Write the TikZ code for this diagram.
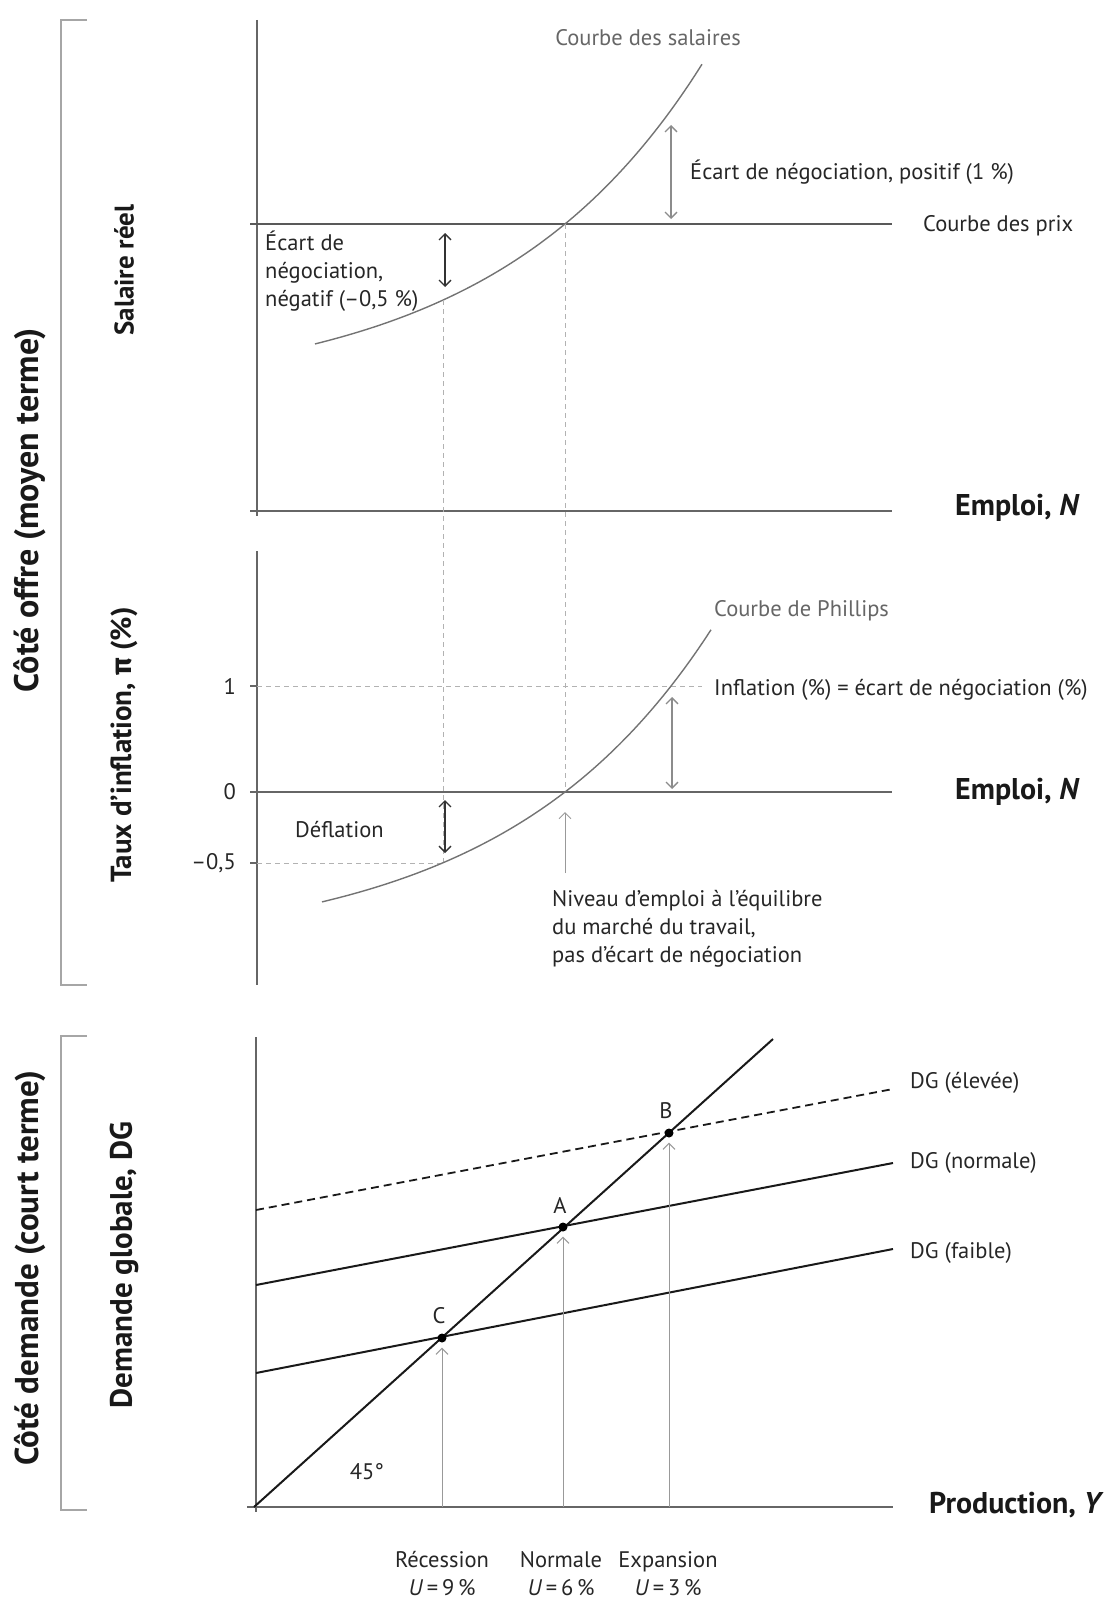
\documentclass[tikz,border=0pt]{standalone}
\usepackage{fontspec}
\setmainfont{PT Sans}
\newfontfamily\grec{Fira Sans}
\usetikzlibrary{arrows.meta}

\begin{document}
\begin{tikzpicture}[x=1pt, y=-1pt,
    axe/.style={draw=black!60, line width=1.5pt},
    prix/.style={draw=black!65, line width=1.6pt},
    courbe/.style={draw=black!55, line width=1.4pt},
    guide/.style={draw=black!30, line width=1pt, dash pattern=on 5pt off 4pt},
    ecart/.style={line width=1.3pt, {Straight Barb[length=6pt,width=12pt]}-{Straight Barb[length=6pt,width=12pt]}},
    fleche/.style={draw=black!40, line width=1pt, -{Straight Barb[length=6pt,width=12pt]}},
    droite/.style={draw=black!90, line width=2pt},
    txt/.style={font=\fontsize{22.5}{28}\selectfont, text=black!85, inner sep=0pt},
    titre/.style={font=\bfseries\fontsize{30}{34}\selectfont, text=black!90, inner sep=0pt},
    cote/.style={font=\bfseries\fontsize{#1}{34}\selectfont, text=black!90, rotate=90, inner sep=0pt},
    point/.style={circle, fill=black, inner sep=0pt, minimum size=9pt},
    crochet/.style={draw=black!35, line width=1.2pt}]

  \useasboundingbox (0,0) rectangle (1105,1600);

  % crochets a gauche
  \draw[crochet] (87,20) -- (61,20) -- (61,985) -- (87,985);
  \draw[crochet] (87,1036) -- (61,1036) -- (61,1510) -- (87,1510);
  \node[cote=34] (offre) at (30,510) {Côté offre (moyen terme)};
  \node[cote=33] (demande) at (30,1268) {Côté demande (court terme)};

  % salaire reel
  \node[cote=27] (salaire) at (124,270) {Salaire réel};
  \draw[axe] (257,20) -- (257,516);
  \draw[axe] (250,511) -- (892,511);
  \node[titre, anchor=west] (emploiA) at (955,508) {Emploi, \textit{N}};
  \draw[prix] (250,224) -- (892,224);
  \node[txt, anchor=west] (prix) at (923,226) {Courbe des prix};
  \draw[courbe] plot[domain=315:702, samples=60, smooth] (\x, {224-171.5*(exp(0.0048*(\x-565))-1)});
  \node[txt, text=black!60] (salaires) at (648,38) {Courbe des salaires};
  \coordinate (posH) at (671,125);
  \coordinate (posB) at (671,219);
  \draw[ecart, draw=black!45] (posH) -- (posB);
  \node[txt, anchor=west] (positif) at (690,172) {Écart de négociation, positif (1~\%)};
  \coordinate (negH) at (445,233);
  \coordinate (negB) at (445,287);
  \draw[ecart, draw=black!80] (negH) -- (negB);
  \node[txt, anchor=north west, align=left] (negatif) at (265,231) {Écart de\\négociation,\\négatif (–0,5~\%)};

  % inflation
  \node[cote=29] (taux) at (124,745) {Taux d’inflation, {\grec π} (\%)};
  \draw[axe] (257,551) -- (257,985);
  \foreach \y/\lab in {686/1, 792/0, 863/{–0,5}} {
    \draw[axe] (250,\y) -- (257,\y);
    \node[txt, anchor=east] at (236,\y) {\lab};
  }
  \draw[axe] (250,792) -- (892,792);
  \node[titre, anchor=west] (emploiB) at (955,792) {Emploi, \textit{N}};
  \draw[guide] (257,686) -- (702,686);
  \draw[guide] (257,863) -- (443,863);
  \draw[guide] (443,300) -- (443,863);
  \draw[guide] (565,224) -- (565,792);
  \draw[courbe] plot[domain=322:711, samples=60, smooth] (\x, {792-159.5*(exp(0.0048*(\x-565))-1)});
  \node[txt, text=black!60, anchor=west] (phillips) at (714,611) {Courbe de Phillips};
  \node[txt, anchor=west] (inflation) at (714,690) {Inflation (\%) = écart de négociation (\%)};
  \draw[ecart, draw=black!45] (672,697) -- (672,789);
  \draw[ecart, draw=black!80] (445,800) -- (445,853);
  \node[txt, anchor=west] (deflation) at (295,830) {Déflation};
  \coordinate (niv) at (565,873);
  \draw[fleche] (niv) -- (565,812);
  \node[txt, anchor=north west, align=left] (niveau) at (552,890) {Niveau d’emploi à l’équilibre\\du marché du travail,\\pas d’écart de négociation};

  % demande globale
  \node[cote=31] (dg) at (124,1265) {Demande globale, DG};
  \draw[axe] (256,1037) -- (256,1512);
  \draw[axe] (247,1507) -- (893,1507);
  \node[titre, anchor=west] (production) at (929,1505) {Production, \textit{Y}};
  \coordinate (O) at (254,1507);
  \coordinate (diag) at (773,1039);
  \draw[droite] (O) -- (diag);
  \draw[droite, line width=1.8pt, dash pattern=on 8pt off 5pt] (256,1210) -- (893,1089);
  \draw[droite] (256,1285) -- (893,1163);
  \draw[droite] (256,1373) -- (893,1249);
  \node[txt, anchor=west] (elevee) at (910,1083) {DG (élevée)};
  \node[txt, anchor=west] (normale) at (910,1163) {DG (normale)};
  \node[txt, anchor=west] (faible) at (910,1253) {DG (faible)};
  \node[point, label={[txt, label distance=9pt, xshift=-3pt]above:B}] (B) at (669,1133) {};
  \node[point, label={[txt, label distance=9pt, xshift=-3pt]above:A}] (A) at (563,1227) {};
  \node[point, label={[txt, label distance=9pt, xshift=-3pt]above:C}] (C) at (442,1338) {};
  \coordinate (xC) at (442,1507);
  \coordinate (xA) at (563,1507);
  \coordinate (xB) at (669,1507);
  \draw[fleche] (xC) -- ([yshift=-5pt]C.south);
  \draw[fleche] (xA) -- ([yshift=-5pt]A.south);
  \draw[fleche] (xB) -- ([yshift=-5pt]B.south);
  \node[txt] (angle) at (367,1472) {45°};
  \node[txt, align=center] (recession) at (442,1574) {Récession\\\textit{U}\,=\,9\,\%};
  \node[txt, align=center] (normal) at (561,1574) {Normale\\\textit{U}\,=\,6\,\%};
  \node[txt, align=center] (expansion) at (668,1574) {Expansion\\\textit{U}\,=\,3\,\%};
\end{tikzpicture}
\end{document}
